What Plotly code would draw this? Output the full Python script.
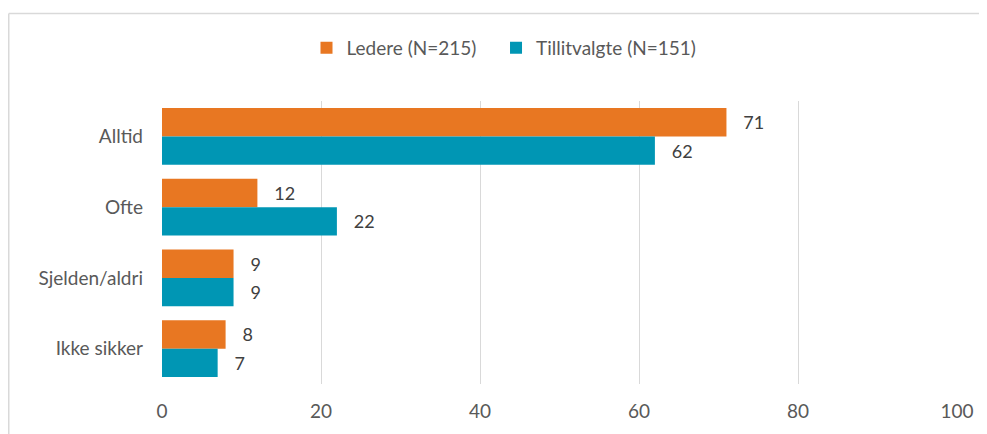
import plotly.graph_objects as go

categories = ["Alltid", "Ofte", "Sjelden/aldri", "Ikke sikker"]
ledere = [71, 12, 9, 8]
tillitvalgte = [62, 22, 9, 7]
series_names = ["Ledere (N=215)", "Tillitvalgte (N=151)"]
x_ticks = [0, 20, 40, 60, 80, 100]

ORANGE = "#E87722"
TEAL = "#0096B4"
TXT = "#595959"
FONT = "Lato"
FS = 19
PAD = "\u00a0\u00a0\u00a0"  # extra spacing between legend entries

fig = go.Figure()
for name, vals, col in [(series_names[0] + PAD, ledere, ORANGE), (series_names[1], tillitvalgte, TEAL)]:
    fig.add_trace(go.Bar(
        y=categories, x=vals, name=name, orientation="h",
        marker=dict(color=col, line=dict(width=0)),
        texttemplate="   %{x}", textposition="outside",
        textfont=dict(family=FONT, size=18, color="#404040"),
        cliponaxis=False,
    ))

# figure is placed at an 8px page offset; sizes chosen so it fills the window
W, H = 979, 426
L, R, T, B = 154, 30, 93, 50
pw, ph = W - L - R, H - T - B

def px_x(p):
    return (p - L) / pw

def px_y(p):
    return (H - B - p) / ph

border = dict(color="#D9D9D9", width=1.5)
fig.add_shape(type="line", xref="paper", yref="paper",
              x0=px_x(0.75), x1=px_x(0.75), y0=px_y(5.5), y1=px_y(440), line=border)
fig.add_shape(type="line", xref="paper", yref="paper",
              x0=px_x(0.75), x1=px_x(990), y0=px_y(5.5), y1=px_y(5.5), line=border)

fig.update_layout(
    width=W, height=H,
    margin=dict(l=L, r=R, t=T, b=B),
    paper_bgcolor="white", plot_bgcolor="white",
    barmode="group", bargap=0.2, bargroupgap=0,
    font=dict(family=FONT, size=FS, color=TXT),
    showlegend=True,
    legend=dict(orientation="h", x=px_x(496), xanchor="center", y=px_y(40), yanchor="middle",
                font=dict(family=FONT, size=FS, color=TXT), itemwidth=30,
                traceorder="normal"),
    xaxis=dict(range=[0, 100], tickvals=x_ticks, showgrid=True, gridcolor="#D9D9D9",
               gridwidth=1, zeroline=False, showline=False, ticks="",
               ticklabelstandoff=14, tickfont=dict(family=FONT, size=FS, color=TXT)),
    yaxis=dict(autorange="reversed", showgrid=False, ticks="", showline=False,
               ticklabelstandoff=18, tickfont=dict(family=FONT, size=FS, color=TXT)),
)

fig.write_html("out.html")
